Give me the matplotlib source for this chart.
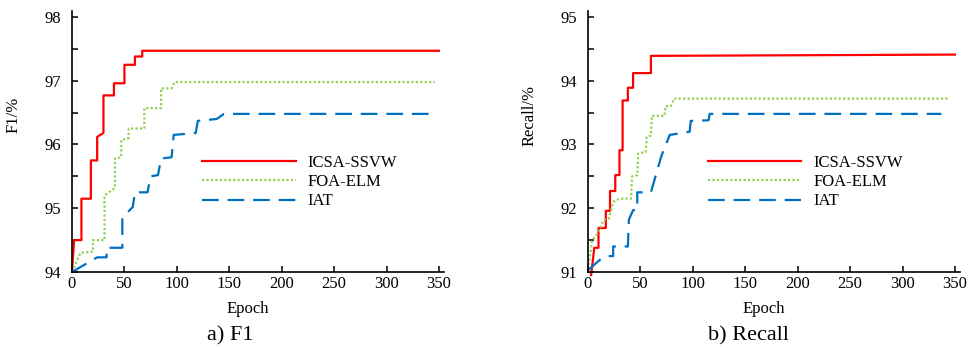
import matplotlib
matplotlib.use("Agg")
import matplotlib.pyplot as plt
from matplotlib.ticker import MultipleLocator

plt.rcParams['font.family'] = ['Liberation Serif', 'DejaVu Serif']

labels = ["ICSA-SSVW", "FOA-ELM", "IAT"]

# a) F1 -- (epoch, value) vertices
f1_icsa_x = [0, 2, 9, 9, 18, 18, 24, 24, 30, 30, 40, 40, 50, 50, 60, 60, 67, 67, 350]
f1_icsa_y = [94.0, 94.5, 94.5, 95.15, 95.15, 95.75, 95.75, 96.12, 96.18, 96.77, 96.77, 96.96,
             96.96, 97.25, 97.25, 97.38, 97.38, 97.47, 97.47]
f1_foa_x = [0, 8, 20, 20, 31, 31, 41, 41, 47, 47, 54, 54, 69, 69, 85, 85, 95, 98, 346]
f1_foa_y = [94.0, 94.3, 94.32, 94.5, 94.5, 95.2, 95.32, 95.78, 95.8, 96.07, 96.1, 96.25,
            96.25, 96.57, 96.57, 96.88, 96.88, 96.98, 96.98]
f1_iat_x = [0, 24, 33, 33, 48, 48, 58, 60, 72, 75, 82, 85, 95, 97, 118, 120, 138, 145, 343]
f1_iat_y = [94.0, 94.23, 94.23, 94.38, 94.38, 94.85, 95.02, 95.25, 95.25, 95.5, 95.52, 95.78,
            95.8, 96.15, 96.18, 96.37, 96.4, 96.48, 96.48]

# b) Recall
rc_icsa_x = [3, 6, 10, 10, 17, 17, 21, 21, 26, 26, 30, 30, 33, 33, 38, 38, 43, 43, 60, 60, 350]
rc_icsa_y = [90.95, 91.38, 91.38, 91.69, 91.69, 91.96, 91.96, 92.27, 92.27, 92.52, 92.52, 92.91,
             92.91, 93.69, 93.69, 93.89, 93.89, 94.12, 94.12, 94.39, 94.41]
rc_foa_x = [0, 4, 9, 15, 20, 24, 30, 41, 42, 47, 48, 55, 56, 60, 61, 73, 74, 79, 82, 344]
rc_foa_y = [91.04, 91.5, 91.6, 91.82, 91.84, 92.1, 92.15, 92.15, 92.5, 92.52, 92.86, 92.88,
            93.12, 93.14, 93.45, 93.45, 93.6, 93.6, 93.72, 93.72]
rc_iat_x = [0, 12, 18, 24, 24, 38, 39, 43, 47, 47, 60, 70, 78, 97, 98, 115, 116, 337]
rc_iat_y = [91.03, 91.2, 91.25, 91.25, 91.4, 91.4, 91.82, 91.97, 91.97, 92.25, 92.25, 92.82,
            93.15, 93.2, 93.37, 93.38, 93.48, 93.48]

colors = ["#ff0000", "#92d050", "#0070c0"]
styles = ["-", (0, (1, 1)), (0, (7.5, 4))]

fig = plt.figure(figsize=(9.76, 3.48), dpi=100)
W, H = 976, 348


def make_axes(x0, ylo, yhi, series, ylabel, leg_x):
    ax = fig.add_axes([x0 / W, 76 / H, 372.2 / W, 261.4 / H])
    for (xs, ys), c, ls, lab in zip(series, colors, styles, labels):
        ax.plot(xs, ys, color=c, linestyle=ls, lw=1.6, label=lab, clip_on=False)
    ax.set_xlim(0, 355)
    ax.set_ylim(ylo, yhi)
    ax.xaxis.set_major_locator(MultipleLocator(50))
    ax.yaxis.set_major_locator(MultipleLocator(1))
    ax.yaxis.set_minor_locator(MultipleLocator(0.5))
    for s in ["top", "right"]:
        ax.spines[s].set_visible(False)
    for s in ["left", "bottom"]:
        ax.spines[s].set_linewidth(1.2)
    ax.tick_params(axis="both", which="both", direction="in", length=4.5, width=1.1, labelsize=12)
    ax.tick_params(axis="y", pad=8)
    ax.tick_params(axis="x", pad=3)
    ax.set_ylabel(ylabel, fontsize=12)
    ax.yaxis.set_label_coords(-0.135, 0.6)
    ax.legend(loc="center left", bbox_to_anchor=(leg_x, 0.344), frameon=False, fontsize=12,
              handlelength=5.6, handletextpad=0.7, borderpad=0, borderaxespad=0,
              labelspacing=0.2)
    return ax


make_axes(72, 94, 98.1,
          [(f1_icsa_x, f1_icsa_y), (f1_foa_x, f1_foa_y), (f1_iat_x, f1_iat_y)],
          "F1/%", 0.35)
make_axes(588, 91, 95.1,
          [(rc_icsa_x, rc_icsa_y), (rc_foa_x, rc_foa_y), (rc_iat_x, rc_iat_y)],
          "Recall/%", 0.3226)

fig.text(248 / W, 1 - 309 / H, "Epoch", ha="center", va="center", fontsize=12)
fig.text(764 / W, 1 - 309 / H, "Epoch", ha="center", va="center", fontsize=12)
fig.text(230 / W, 1 - 336 / H, "a) F1", ha="center", va="center", fontsize=16)
fig.text(748 / W, 1 - 336 / H, "b) Recall", ha="center", va="center", fontsize=16)

fig.savefig("out.png", dpi=100)
